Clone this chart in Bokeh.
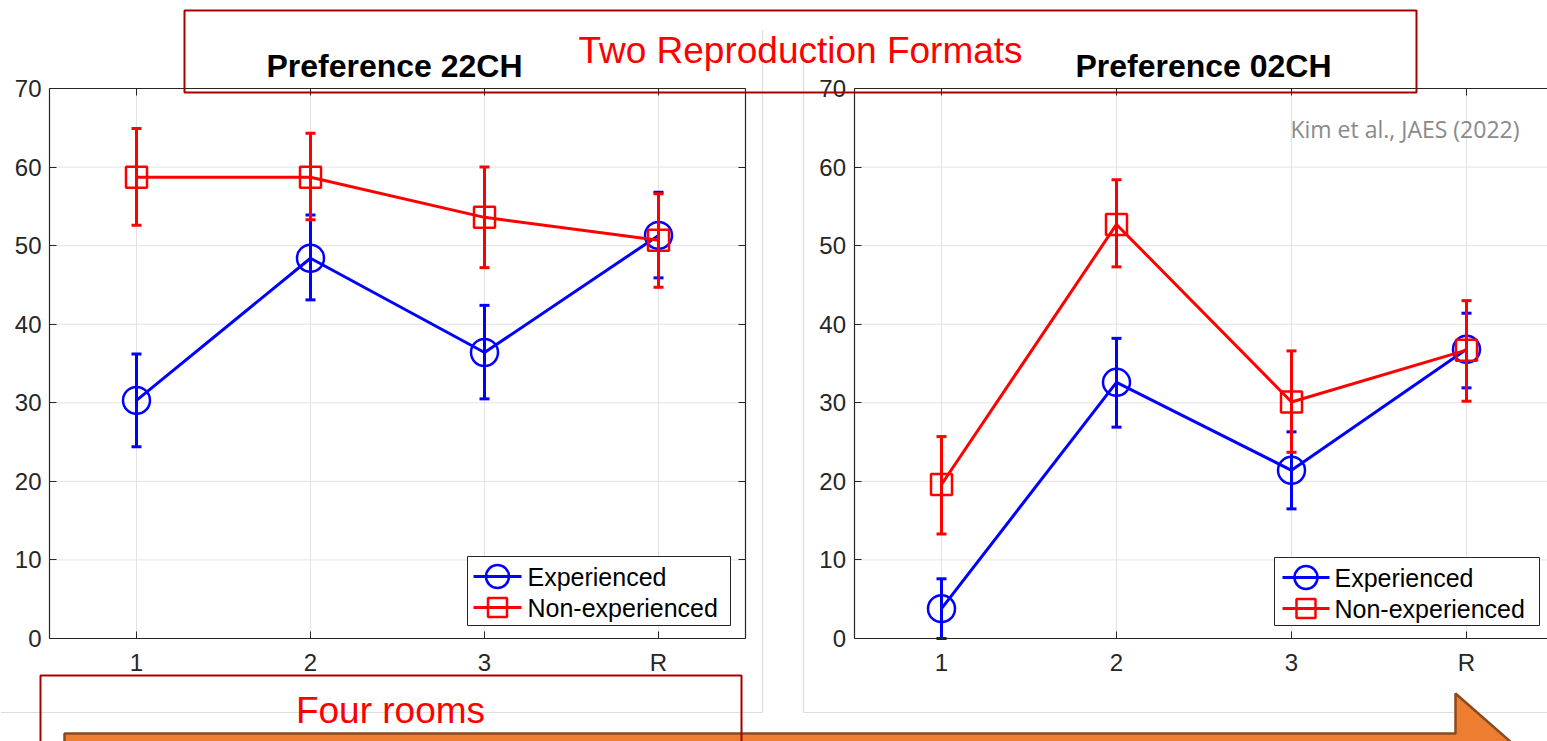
from bokeh.plotting import figure
from bokeh.models import Range1d, LinearAxis, FixedTicker, ColumnDataSource
from bokeh.core.properties import value
from bokeh.embed import file_html
from bokeh.resources import INLINE

# ---------------- data ----------------
rooms = ["1", "2", "3", "R"]
y_ticks = [0, 10, 20, 30, 40, 50, 60, 70]
series_names = ["Experienced", "Non-experienced"]

# Preference 22CH
exp22 = [30.3, 48.4, 36.4, 51.3]
exp22_lo = [24.4, 43.1, 30.5, 45.9]
exp22_hi = [36.2, 53.9, 42.4, 56.8]
non22 = [58.7, 58.7, 53.6, 50.7]
non22_lo = [52.6, 53.3, 47.2, 44.7]
non22_hi = [64.9, 64.3, 60.0, 56.6]

# Preference 02CH
exp02 = [3.8, 32.6, 21.4, 36.8]
exp02_lo = [0.0, 26.9, 16.5, 31.9]
exp02_hi = [7.6, 38.2, 26.3, 41.4]
non02 = [19.6, 52.7, 30.1, 36.7]
non02_lo = [13.3, 47.3, 23.7, 30.2]
non02_hi = [25.7, 58.4, 36.6, 43.0]

# ---------------- page ----------------
W, H = 1547, 741
FONT = "Liberation Sans"
AX = "#262626"
BLUE, RED = "#0000FF", "#FF0000"

p = figure(width=W, height=H, x_range=Range1d(0, W), y_range=Range1d(H, 0),
           x_axis_location=None, y_axis_location=None, toolbar_location=None,
           output_backend="svg", min_border=0, outline_line_color=None,
           background_fill_color="white", border_fill_color="white")
p.grid.visible = False

# calibration of the two panels (pixels)
PY = 550 / 70.0
p.extra_y_ranges = {"py": Range1d(-103 / PY, -103 / PY + H / PY)}
p.extra_x_ranges = {
    "lx": Range1d(1 - 136 / 174.0, 1 - 136 / 174.0 + W / 174.0),
    "rx": Range1d(1 - 941 / 175.0, 1 - 941 / 175.0 + W / 175.0),
}

# slide image frames (light gray)
p.segment(x0=[762, 0, 803, 803], y0=[30, 712, 40, 712], x1=[762, 762, 803, W], y1=[712, 712, 712, 712],
          line_color="#dddddd", line_width=1.2)


def panel(xname, exp, exp_lo, exp_hi, non, non_lo, non_hi, leg):
    xs = list(range(1, len(rooms) + 1))
    xlo, xhi = 0.5, len(rooms) + 0.5
    kw = dict(x_range_name=xname, y_range_name="py")
    # grid
    p.segment(x0=xs, y0=[y_ticks[0]] * len(xs), x1=xs, y1=[y_ticks[-1]] * len(xs),
              line_color="#e3e3e3", line_width=1, **kw)
    p.segment(x0=[xlo] * len(y_ticks), y0=y_ticks, x1=[xhi] * len(y_ticks), y1=y_ticks,
              line_color="#e3e3e3", line_width=1, **kw)
    # box axes
    common = dict(axis_line_color=AX, axis_line_width=1.2, major_tick_line_color=AX,
                  major_tick_line_width=1, major_tick_in=7, major_tick_out=0,
                  minor_tick_line_color=None, major_label_text_font=FONT,
                  major_label_text_font_size="24px", major_label_text_color=AX, **kw)
    ya = LinearAxis(fixed_location=xlo, bounds=(y_ticks[0], y_ticks[-1]),
                    ticker=FixedTicker(ticks=y_ticks), major_label_standoff=8, **common)
    p.add_layout(ya, "left")
    yb = LinearAxis(fixed_location=xhi, bounds=(y_ticks[0], y_ticks[-1]),
                    ticker=FixedTicker(ticks=y_ticks), major_label_text_alpha=0, **common)
    p.add_layout(yb, "right")
    xa = LinearAxis(fixed_location=y_ticks[0], bounds=(xlo, xhi), ticker=FixedTicker(ticks=xs),
                    major_label_overrides={x: r for x, r in zip(xs, rooms)},
                    major_label_standoff=10, **common)
    p.add_layout(xa, "below")
    xb = LinearAxis(fixed_location=y_ticks[-1], bounds=(xlo, xhi), ticker=FixedTicker(ticks=xs),
                    major_label_text_alpha=0, **common)
    p.add_layout(xb, "above")

    for vals, lo, hi, color, marker, size in [
        (exp, exp_lo, exp_hi, BLUE, "circle", 27),
        (non, non_lo, non_hi, RED, "square", 21),
    ]:
        src = ColumnDataSource(dict(x=xs, y=vals, lo=lo, hi=hi))
        p.line("x", "y", source=src, line_color=color, line_width=3, **kw)
        p.segment("x", "lo", "x", "hi", source=src, line_color=color, line_width=3, **kw)
        p.scatter("x", "lo", marker="dash", size=10, line_color=color, line_width=3, source=src, **kw)
        p.scatter("x", "hi", marker="dash", size=10, line_color=color, line_width=3, source=src, **kw)
        p.scatter("x", "y", marker=marker, size=size, fill_color=None, line_color=color,
                  line_width=2.5, source=src, **kw)

    # legend (box in page pixels)
    bx0, by0, bx1, by1, lx0, lx1, tx = leg
    rows = [by0 + 20, by0 + 51]
    mx = (lx0 + lx1) / 2
    p.quad(left=[bx0], right=[bx1], top=[by0], bottom=[by1], fill_color="white",
           line_color=AX, line_width=1, level="annotation")
    p.segment(x0=[lx0, lx0], y0=rows, x1=[lx1, lx1], y1=rows, line_color=[BLUE, RED],
              line_width=3, level="annotation")
    p.scatter(x=[mx], y=[rows[0]], marker="circle", size=23, fill_color=None, line_color=BLUE,
              line_width=2.5, level="annotation")
    p.scatter(x=[mx], y=[rows[1]], marker="square", size=19, fill_color=None, line_color=RED,
              line_width=2.5, level="annotation")
    p.text(x=[tx, tx], y=rows, text=series_names, text_font=value(FONT), text_font_size="25px",
           text_color="black", text_align="left", text_baseline="middle", level="annotation")


panel("lx", exp22, exp22_lo, exp22_hi, non22, non22_lo, non22_hi, (467, 556, 730, 625, 473, 521, 527))
panel("rx", exp02, exp02_lo, exp02_hi, non02, non02_lo, non02_hi, (1274, 557, 1539, 625, 1282, 1329, 1334))

# panel titles
p.text(x=[394, 1203], y=[65, 65], text=["Preference 22CH", "Preference 02CH"],
       text_font=value(FONT), text_font_style="bold", text_font_size="32px",
       text_color="black", text_align="center", text_baseline="middle")

# citation
p.text(x=[1519], y=[128], text=["Kim et al., JAES (2022)"], text_font=value("Open Sans"),
       text_font_size="23px", text_color="#8a8a8a", text_align="right", text_baseline="middle")

# orange arrow
p.patch(x=[64, 1455, 1455, 1560, 1560, 64], y=[733, 733, 693, 785, 800, 800],
        fill_color="#ED7D31", line_color="#8a4a1e", line_width=2.5, level="overlay")

# red annotation boxes
p.quad(left=[184, 40], right=[1416, 741], top=[10, 675], bottom=[92, 760],
       fill_color=None, line_color="#A80000", line_width=2, level="overlay")
p.text(x=[800, 390], y=[50, 710], text=["Two Reproduction Formats", "Four rooms"],
       text_font=value(FONT), text_font_size="37px", text_color=RED,
       text_align="center", text_baseline="middle", level="overlay")

open("out.html", "w").write(file_html(p, INLINE))
